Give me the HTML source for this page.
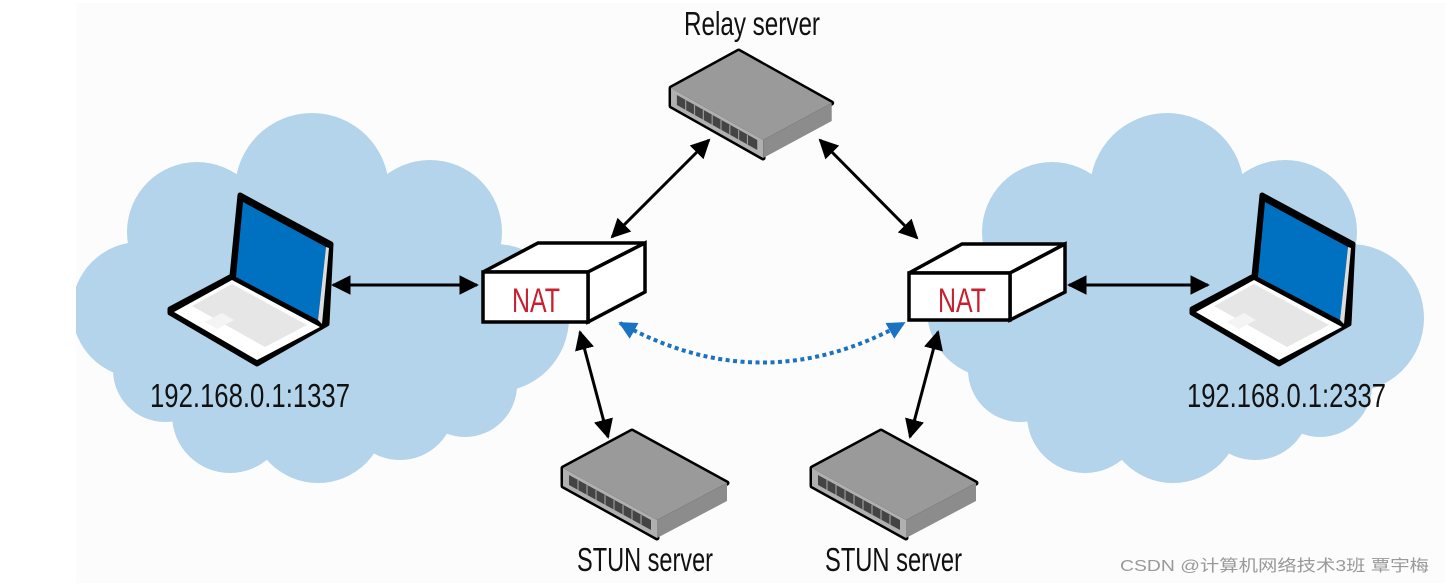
<!DOCTYPE html>
<html><head><meta charset="utf-8"><style>
html,body{margin:0;padding:0;background:#fff;}
svg{display:block;}
.lbl{font-family:"Liberation Sans Narrow","Liberation Sans",sans-serif;fill:#111;}
</style></head><body>
<svg width="1445" height="583" viewBox="0 0 1445 583" xmlns="http://www.w3.org/2000/svg">
<defs>
<clipPath id="cl"><rect x="76" y="3" width="1369" height="580"/></clipPath>
<g id="cloud" fill="#b3d4ea">
  <circle cx="995" cy="310" r="68"/>
  <circle cx="1052" cy="232" r="70"/>
  <circle cx="1167" cy="190" r="77"/>
  <circle cx="1285" cy="232" r="72"/>
  <circle cx="1350" cy="318" r="74"/>
  <circle cx="1320" cy="385" r="52"/>
  <circle cx="1255" cy="405" r="55"/>
  <circle cx="1173" cy="415" r="68"/>
  <circle cx="1085" cy="415" r="58"/>
  <circle cx="1020" cy="370" r="52"/>
  <rect x="990" y="230" width="360" height="180"/>
</g>
<g id="srv">
  <polygon points="0,0 69,-37 164,15 94,52 94,70 0,18" fill="#000" stroke="#000" stroke-width="5" stroke-linejoin="round"/>
  <polygon points="0,0 69,-37 164,15 94,52" fill="#9a9a9a"/>
  <polygon points="0,0 94,52 94,70 0,18" fill="#b0b0b0"/>
  <polygon points="94,52 164,15 164,33 94,70" fill="#8c8c8c"/>
  <polygon points="6,7 88,52 88,62 6,17" fill="#444"/>
  <g stroke="#9a9a9a" stroke-width="1.2">
    <line x1="15" y1="12" x2="15" y2="22"/><line x1="24" y1="17" x2="24" y2="27"/><line x1="33" y1="22" x2="33" y2="32"/>
    <line x1="42" y1="27" x2="42" y2="37"/><line x1="51" y1="32" x2="51" y2="42"/><line x1="60" y1="37" x2="60" y2="47"/>
    <line x1="69" y1="42" x2="69" y2="52"/><line x1="78" y1="47" x2="78" y2="57"/>
  </g>
</g>
<g id="lap">
  <polygon points="240,195 331,244 327,324 257,364 170,313 170,309 232,276" fill="#000" stroke="#000" stroke-width="5" stroke-linejoin="round"/>
  <polygon points="243,202 326,247 318,320 236,277" fill="#0070c0"/>
  <polygon points="326,247 329,248 322,324 318,320" fill="#ddd"/>
  <polygon points="232,280 320,327 257,360 174,312" fill="#fff"/>
  <polygon points="232,284 307,325 265,347 192,306" fill="#e6e6e6"/>
  <polygon points="205,322 222,313 234,320 217,329" fill="#f4f4f4"/>
</g>
<marker id="ah" viewBox="0 0 10 10" refX="9" refY="5" markerWidth="6.5" markerHeight="7" orient="auto-start-reverse" markerUnits="strokeWidth"><path d="M0,0 L10,5 L0,10 z" fill="#000"/></marker>
<marker id="bh" viewBox="0 0 10 10" refX="9" refY="5" markerWidth="4.5" markerHeight="5" orient="auto-start-reverse" markerUnits="strokeWidth"><path d="M0,0 L10,5 L0,10 z" fill="#1a72c0"/></marker>
</defs>
<rect x="76" y="3" width="1369" height="580" fill="#fcfcfc"/>
<g clip-path="url(#cl)">
  <use href="#cloud" transform="translate(-855,0)"/>
  <use href="#cloud"/>
</g>

<use href="#srv" transform="translate(671,88) scale(0.98,1)"/>
<use href="#srv" transform="translate(563,468)"/>
<use href="#srv" transform="translate(812,468)"/>

<use href="#lap"/>
<use href="#lap" transform="translate(1022,0)"/>

<g stroke="#000" stroke-width="3.5" stroke-linejoin="miter" fill="#fff">
  <polygon points="483,272 538,243 645,243 588,272"/>
  <polygon points="588,272 645,243 645,292 588,322"/>
  <rect x="483" y="272" width="105" height="50"/>
  <polygon points="909,273 962,244 1065,244 1010,273"/>
  <polygon points="1010,273 1065,244 1065,292 1010,320"/>
  <rect x="909" y="273" width="101" height="47"/>
</g>
<text x="512" y="312" font-family="Liberation Sans Narrow,Liberation Sans,sans-serif" font-size="34" fill="#c8202f" textLength="48" lengthAdjust="spacingAndGlyphs">NAT</text>
<text x="938" y="312" font-family="Liberation Sans Narrow,Liberation Sans,sans-serif" font-size="34" fill="#c8202f" textLength="48" lengthAdjust="spacingAndGlyphs">NAT</text>

<g stroke="#000" stroke-width="3" marker-start="url(#ah)" marker-end="url(#ah)">
  <line x1="333" y1="285" x2="477" y2="285"/>
  <line x1="1069" y1="285" x2="1208" y2="285"/>
  <line x1="709" y1="140" x2="612" y2="237"/>
  <line x1="820" y1="140" x2="917" y2="238"/>
  <line x1="580" y1="332" x2="608" y2="437"/>
  <line x1="938" y1="332" x2="910" y2="437"/>
</g>
<path d="M620,323 Q762,402 904,323" fill="none" stroke="#1a72c0" stroke-width="4" stroke-dasharray="4 3.5" marker-start="url(#bh)" marker-end="url(#bh)"/>

<text class="lbl" x="684" y="35" font-size="33" textLength="136" lengthAdjust="spacingAndGlyphs">Relay server</text>
<text class="lbl" x="577" y="571" font-size="33" textLength="136" lengthAdjust="spacingAndGlyphs">STUN server</text>
<text class="lbl" x="825" y="571" font-size="33" textLength="137" lengthAdjust="spacingAndGlyphs">STUN server</text>
<text class="lbl" x="150" y="407" font-size="33" textLength="200" lengthAdjust="spacingAndGlyphs">192.168.0.1:1337</text>
<text class="lbl" x="1187" y="407" font-size="33" textLength="199" lengthAdjust="spacingAndGlyphs">192.168.0.1:2337</text>
<text x="1120" y="571" font-family="Liberation Sans,Noto Sans CJK SC,sans-serif" font-size="16" fill="#999" textLength="309" lengthAdjust="spacingAndGlyphs">CSDN @计算机网络技术3班 覃宇梅</text>
</svg>
</body></html>
